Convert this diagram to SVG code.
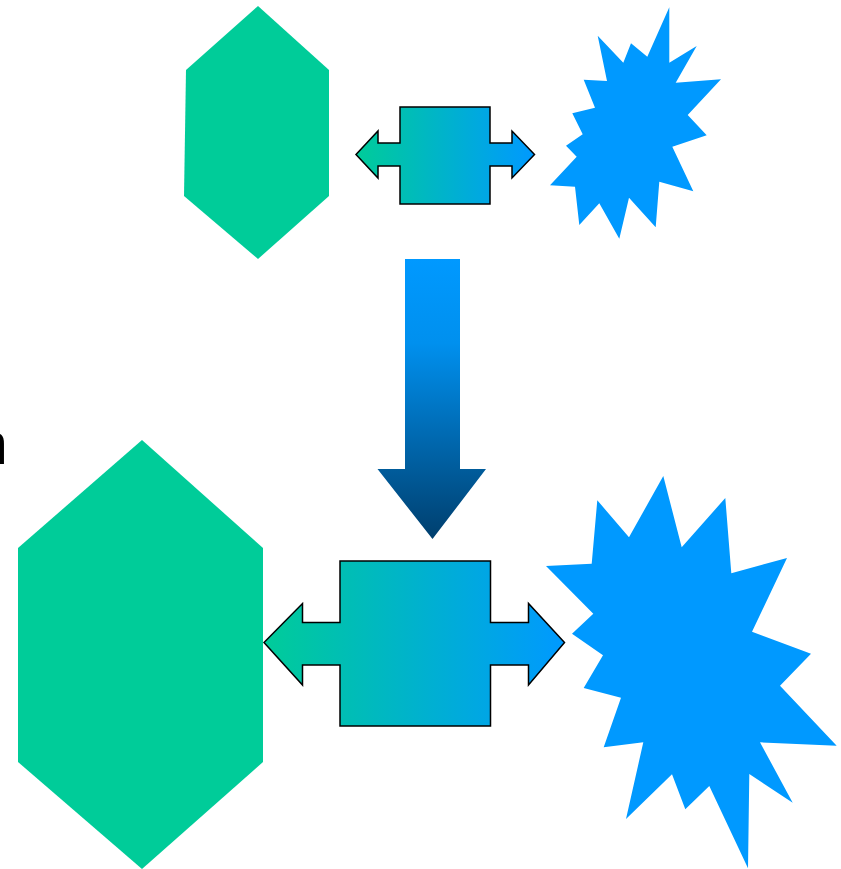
<svg xmlns="http://www.w3.org/2000/svg" width="841" height="869" viewBox="0 0 841 869">
<defs>
<linearGradient id="hgrad" x1="0" y1="0" x2="1" y2="0">
<stop offset="0" stop-color="#00CC99"/>
<stop offset="1" stop-color="#0099FF"/>
</linearGradient>
<linearGradient id="vgrad" x1="0" y1="0" x2="0" y2="1">
<stop offset="0" stop-color="#0099FF"/>
<stop offset="0.3" stop-color="#0090EE"/>
<stop offset="1" stop-color="#003F6E"/>
</linearGradient>
<style>
.hex{fill:#00CC99;}
.star{fill:#0099FF;}
.darr{fill:url(#hgrad);stroke:#000;stroke-width:1.5;stroke-linejoin:miter;}
.label{font-family:"Liberation Sans",Arial,sans-serif;font-size:60px;fill:#000;}
</style>
</defs>
<rect width="841" height="869" fill="#fff"/>
<text class="label" x="-25.5" y="463.5">n</text>
<g id="hex-top"><polygon class="hex" points="258,6 329,70 329,196 258,259 184,196 186,70"/></g>
<g id="star-top"><polygon class="star" points="669.3,7.3 669.3,62.7 696.7,46 675.7,82.7 721,79.3 687.7,115 706.7,135.3 672.3,146.7 693.3,191.3 659.3,181.7 655.7,227.3 629,197.7 619.3,238.7 599.3,203.3 579.3,225 575,186.7 550,185.3 576.7,156.7 566,145.7 582.7,134.3 572.3,113.3 595,107.7 583.7,79.7 607,81 597.7,35.7 623.3,62.7 631,43.3 647.3,56.7"/></g>
<g id="hex-bottom"><polygon class="hex" points="142,440 263,548 263,762 142,869 18,762 18,548"/></g>
<g id="star-bottom"><polygon class="star" points="663.3,476 681.7,547.3 725.3,498 731.3,573.3 787,558 752,631.7 811,653.7 780,685.7 836.7,745.7 760,742.3 792.7,802.7 749.3,774 748,868.3 709.3,786 685.3,809.3 672,774.3 626,819 643.3,742.3 603.7,747.3 621,697.7 583.7,688 603,655.3 572,633.7 593.3,613.7 546,566 591.7,563.7 597.3,500.3 629,537.3"/></g>
<g id="connectors">
<polygon class="darr" points="356,154.5 378,131 378,143 400,143 400,107 490,107 490,143 512,143 512,131 534.5,154.5 512,178 512,166 490,166 490,204 400,204 400,166 378,166 378,178"/>
<polygon fill="url(#vgrad)" points="405,259 460,259 460,469 486,469 432.5,539 377.5,469 405,469"/>
<polygon class="darr" points="264,642.5 302.5,603.5 302.5,622.5 340,622.5 340,561 490.5,561 490.5,622.5 528.5,622.5 528.5,603.5 564.5,642.5 528.5,685 528.5,665 490.5,665 490.5,726 340,726 340,665 302.5,665 302.5,685"/>
</g>
</svg>
